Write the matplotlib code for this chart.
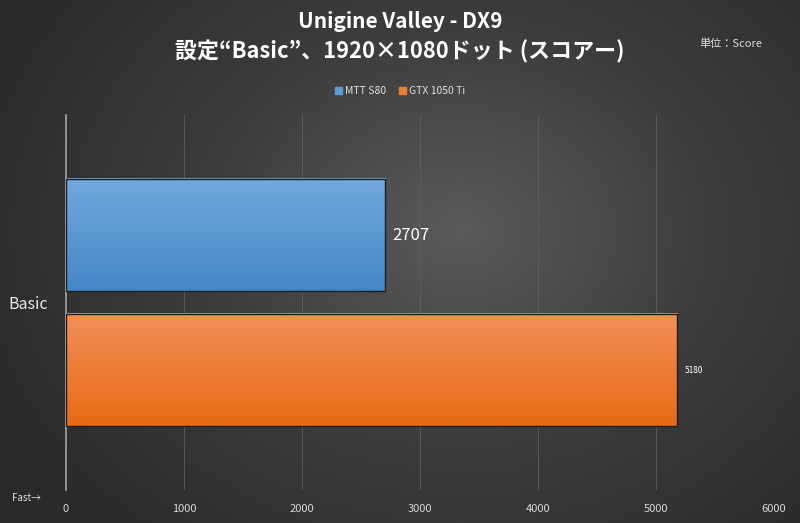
import numpy as np
import matplotlib.pyplot as plt
from matplotlib.colors import LinearSegmentedColormap

plt.rcParams['font.family'] = ['Noto Sans CJK JP', 'DejaVu Sans']

# データ
series = ['MTT S80', 'GTX 1050 Ti']
scores = [2707, 5180]
category = 'Basic'
top_colors = ['#72a9de', '#f28f58']
bottom_colors = ['#4487c6', '#e76b16']
label_sizes = [12, 6]
xticks = [0, 1000, 2000, 3000, 4000, 5000, 6000]

fig = plt.figure(figsize=(8, 5.23), dpi=100)

# 背景 (放射状グラデーション)
bg = fig.add_axes([0, 0, 1, 1], zorder=-2)
yy, xx = np.mgrid[0:523, 0:800]
r = np.sqrt(((xx - 460) / 520.0) ** 2 + ((yy - 230) / 420.0) ** 2)
r = np.clip(r, 0, 1)
bg_cmap = LinearSegmentedColormap.from_list('bg', ['#5a5a5a', '#3c3c3c', '#2a2a2a'])
bg.imshow(r, cmap=bg_cmap, aspect='auto', extent=[0, 1, 0, 1], vmin=0, vmax=1)
bg.axis('off')

ax = fig.add_axes([0.0825, 0.063, 0.885, 0.717])
ax.patch.set_alpha(0)

offsets = [0.18, -0.18]
height = 0.3
for i, (name, val) in enumerate(zip(series, scores)):
    y0 = offsets[i] - height / 2
    cmap = LinearSegmentedColormap.from_list('g%d' % i, [bottom_colors[i], top_colors[i]])
    grad = np.linspace(0, 1, 100).reshape(-1, 1)
    ax.imshow(grad, cmap=cmap, aspect='auto', origin='lower',
              extent=[0, val, y0, y0 + height], zorder=3)
    ax.barh(offsets[i], val, height=height, color='none', edgecolor='#1e1e1e',
            linewidth=1.0, zorder=4, label=name)
    ax.text(val + 60, offsets[i], str(val), color='white', fontsize=label_sizes[i],
            va='center', ha='left', zorder=5)

ax.set_xlim(0, 6000)
ax.set_ylim(-0.5, 0.5)
ax.set_xticks(xticks)
ax.set_xticklabels([str(t) for t in xticks], color='#d8d8d8', fontsize=8)
ax.set_yticks([0])
ax.set_yticklabels([category], color='#e8e8e8', fontsize=11.5)
ax.tick_params(axis='both', length=0, pad=10)
ax.tick_params(axis='y', pad=13)
ax.xaxis.grid(True, color='#5f5f5f', linewidth=0.6, zorder=0)
ax.set_axisbelow(True)
for s in ['top', 'right', 'bottom']:
    ax.spines[s].set_visible(False)
ax.spines['left'].set_color('#a0a0a0')
ax.spines['left'].set_linewidth(1.2)

# 凡例
handles = [plt.Rectangle((0, 0), 1, 1, color=c) for c in ['#5b9bd5', '#ed7d31']]
fig.legend(handles, series, loc='center', bbox_to_anchor=(0.5, 1 - 91 / 523), ncol=2,
           frameon=False, fontsize=7.5, labelcolor='#e0e0e0', handlelength=0.7,
           handleheight=0.7, handletextpad=0.3, columnspacing=1.2)

fig.text(0.5, 1 - 22 / 523, 'Unigine Valley - DX9', color='white', fontsize=15,
         fontweight='bold', ha='center', va='center')
fig.text(0.5, 1 - 52 / 523, '設定“Basic”、1920×1080ドット (スコアー)', color='white',
         fontsize=15.8, fontweight='bold', ha='center', va='center')
fig.text(0.913, 1 - 44 / 523, '単位：Score', color='#e0e0e0', fontsize=8,
         ha='center', va='center')
fig.text(0.015, 1 - 498 / 523, 'Fast→', color='#e0e0e0', fontsize=7,
         ha='left', va='center')

fig.savefig('out.png', dpi=100)
